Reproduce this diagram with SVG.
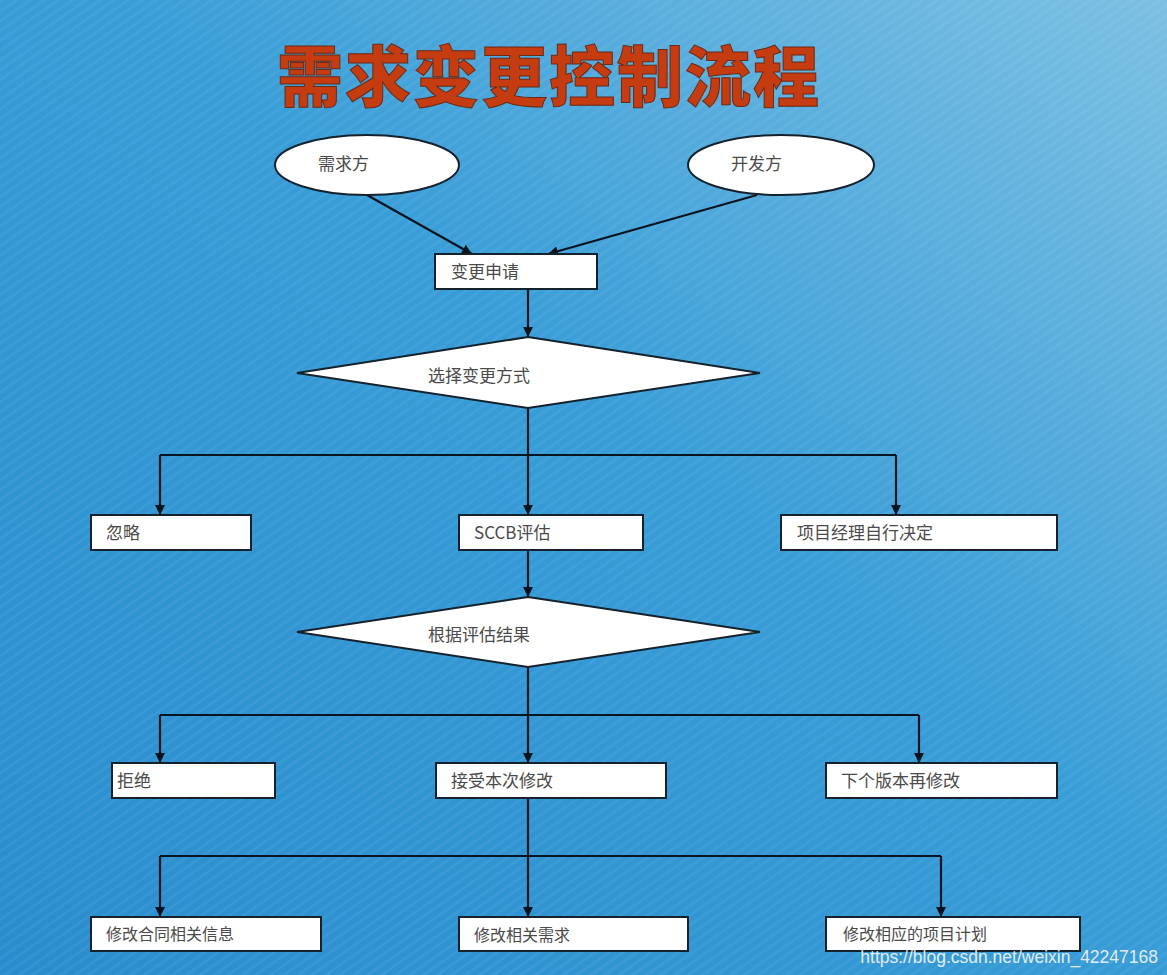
<svg xmlns="http://www.w3.org/2000/svg" width="1167" height="975" viewBox="0 0 1167 975">
<defs>
<linearGradient id="bg" x1="0" y1="1" x2="1" y2="0">
<stop offset="0" stop-color="#2a8ccd"/>
<stop offset="0.55" stop-color="#389dd7"/>
<stop offset="1" stop-color="#7cc0e3"/>
</linearGradient>
<pattern id="stripes" width="8" height="8" patternUnits="userSpaceOnUse" patternTransform="rotate(-35)">
<rect width="8" height="3" fill="#ffffff" opacity="0.05"/>
</pattern>
<marker id="arr" viewBox="0 0 10 10" refX="10" refY="5" markerWidth="10" markerHeight="10" markerUnits="userSpaceOnUse" orient="auto">
<path d="M0,0 L10,5 L0,10 z" fill="#0a1420"/>
</marker>
<style>
.box{fill:#ffffff;stroke:#14222e;stroke-width:2}
.t{font-family:"Noto Sans CJK SC","Liberation Serif",serif;font-size:17px;fill:#4a4a4a}
.ts{font-family:"Noto Sans CJK SC","Liberation Sans",sans-serif;font-size:16px;fill:#4a4a4a}
.c{fill:none;stroke:#0a1420;stroke-width:2.2}
</style>
</defs>
<rect width="1167" height="975" fill="url(#bg)"/>
<rect width="1167" height="975" fill="url(#stripes)"/>
<text x="549" y="101" text-anchor="middle" font-family="Noto Sans CJK SC, sans-serif" font-weight="900" font-size="66" fill="#c43c10" stroke="#6a2a18" stroke-width="1" letter-spacing="2">需求变更控制流程</text>

<g id="connectors">
<line class="c" x1="367" y1="195" x2="472" y2="254" marker-end="url(#arr)"/>
<line class="c" x1="757" y1="195" x2="548" y2="254" marker-end="url(#arr)"/>
<line class="c" x1="528" y1="289" x2="528" y2="337" marker-end="url(#arr)"/>
<path class="c" d="M528,408 V455"/>
<path class="c" d="M160,455 H896"/>
<line class="c" x1="160" y1="455" x2="160" y2="515" marker-end="url(#arr)"/>
<line class="c" x1="896" y1="455" x2="896" y2="515" marker-end="url(#arr)"/>
<line class="c" x1="528" y1="455" x2="528" y2="515" marker-end="url(#arr)"/>
<line class="c" x1="528" y1="550" x2="528" y2="597" marker-end="url(#arr)"/>
<path class="c" d="M528,667 V715"/>
<path class="c" d="M160,715 H919"/>
<line class="c" x1="160" y1="715" x2="160" y2="763" marker-end="url(#arr)"/>
<line class="c" x1="528" y1="715" x2="528" y2="763" marker-end="url(#arr)"/>
<line class="c" x1="919" y1="715" x2="919" y2="763" marker-end="url(#arr)"/>
<path class="c" d="M528,798 V856"/>
<path class="c" d="M160,856 H941"/>
<line class="c" x1="160" y1="856" x2="160" y2="917" marker-end="url(#arr)"/>
<line class="c" x1="528" y1="856" x2="528" y2="917" marker-end="url(#arr)"/>
<line class="c" x1="941" y1="856" x2="941" y2="917" marker-end="url(#arr)"/>
</g>

<g id="n_xuqiufang"><ellipse class="box" cx="367" cy="165" rx="92" ry="30"/><text class="t" x="318" y="170">需求方</text></g>
<g id="n_kaifafang"><ellipse class="box" cx="781" cy="165" rx="93" ry="30"/><text class="t" x="731" y="170">开发方</text></g>
<g id="n_biangengshenqing"><rect class="box" x="435" y="254" width="162" height="35"/><text class="t" x="451" y="278">变更申请</text></g>
<g id="n_xuanze"><polygon class="box" points="528,337 760,373 528,408 297,373"/><text class="t" x="428" y="382">选择变更方式</text></g>
<g id="n_hulue"><rect class="box" x="91" y="515" width="160" height="35"/><text class="t" x="106" y="539">忽略</text></g>
<g id="n_sccb"><rect class="box" x="459" y="515" width="184" height="35"/><text class="t" x="474" y="539">SCCB评估</text></g>
<g id="n_xiangmujingli"><rect class="box" x="781" y="515" width="276" height="35"/><text class="t" x="797" y="539">项目经理自行决定</text></g>
<g id="n_genju"><polygon class="box" points="528,597 760,632 528,667 297,632"/><text class="t" x="428" y="641">根据评估结果</text></g>
<g id="n_jujue"><rect class="box" x="112" y="763" width="163" height="35"/><text class="t" x="117" y="787">拒绝</text></g>
<g id="n_jieshou"><rect class="box" x="436" y="763" width="230" height="35"/><text class="t" x="451" y="787">接受本次修改</text></g>
<g id="n_xiageban"><rect class="box" x="826" y="763" width="231" height="35"/><text class="t" x="841" y="787">下个版本再修改</text></g>
<g id="n_hetong"><rect class="box" x="91" y="917" width="230" height="34"/><text class="ts" x="106" y="940">修改合同相关信息</text></g>
<g id="n_xuqiu"><rect class="box" x="459" y="917" width="229" height="34"/><text class="ts" x="474" y="941">修改相关需求</text></g>
<g id="n_jihua"><rect class="box" x="826" y="917" width="254" height="34"/><text class="ts" x="843" y="940">修改相应的项目计划</text></g>

<text x="1158" y="963" text-anchor="end" font-family="Liberation Sans, sans-serif" font-size="17.5" fill="#f2f6fa" opacity="0.9">https://blog.csdn.net/weixin_42247168</text>
</svg>
